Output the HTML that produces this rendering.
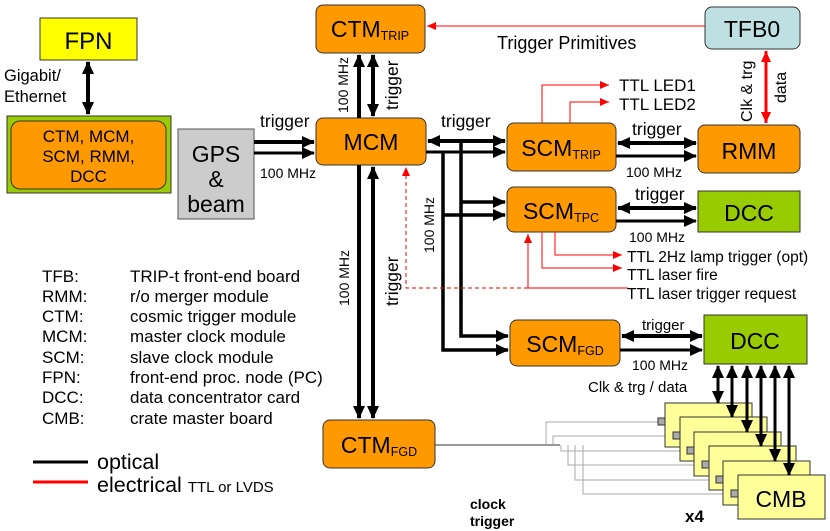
<!DOCTYPE html>
<html><head><meta charset="utf-8"><style>
body{margin:0;background:#fff}
svg{display:block;font-family:"Liberation Sans",Arial,sans-serif}
</style></head><body>
<svg width="830" height="531" viewBox="0 0 830 531" xmlns="http://www.w3.org/2000/svg">
<defs>
<marker id="ab" markerUnits="userSpaceOnUse" markerWidth="14" markerHeight="14" refX="12" refY="7" orient="auto-start-reverse"><path d="M0,1 L13,7 L0,13 z" fill="#000"/></marker>
<marker id="ar" markerUnits="userSpaceOnUse" markerWidth="12" markerHeight="12" refX="11" refY="6" orient="auto-start-reverse"><path d="M0,1 L11,6 L0,11 z" fill="#f00"/></marker>
<marker id="ars" markerUnits="userSpaceOnUse" markerWidth="10" markerHeight="10" refX="9" refY="5" orient="auto-start-reverse"><path d="M0,1 L9,5 L0,9 z" fill="#f00"/></marker>
</defs>

<rect x="40" y="18" width="97" height="42" fill="#ffff00" stroke="#333"/>
<text x="88.5" y="49" font-size="24" text-anchor="middle">FPN</text>
<rect x="7" y="116" width="164" height="77" fill="#99cc00" stroke="#333"/>
<rect x="11" y="121" width="155" height="68" rx="9" fill="#ff9900" stroke="#333"/>
<text x="88.5" y="142" font-size="17" text-anchor="middle">CTM, MCM,</text>
<text x="88.5" y="162" font-size="17" text-anchor="middle">SCM, RMM,</text>
<text x="88.5" y="182" font-size="17" text-anchor="middle">DCC</text>
<line x1="88" y1="62" x2="88" y2="114" stroke="#000" stroke-width="4" marker-start="url(#ab)" marker-end="url(#ab)"/>
<text x="4" y="81" font-size="16.5">Gigabit/</text>
<text x="4" y="102" font-size="16.5">Ethernet</text>
<rect x="178" y="129" width="76" height="90" fill="#cccccc" stroke="#555"/>
<text x="216" y="162" font-size="23" text-anchor="middle">GPS</text>
<text x="216" y="187" font-size="23" text-anchor="middle">&amp;</text>
<text x="216" y="212" font-size="23" text-anchor="middle">beam</text>
<line x1="254" y1="142" x2="314" y2="142" stroke="#000" stroke-width="4" marker-end="url(#ab)"/>
<line x1="254" y1="153" x2="314" y2="153" stroke="#000" stroke-width="3" marker-end="url(#ab)"/>
<text x="260" y="127" font-size="17.5">trigger</text>
<text x="260" y="178" font-size="14">100 MHz</text>

<g fill="#ff9900" stroke="#333">
<rect x="316" y="5" width="109" height="48" rx="7"/>
<rect x="316" y="118" width="110" height="47" rx="7"/>
<rect x="507" y="123" width="109" height="48" rx="7"/>
<rect x="698" y="125" width="102" height="48" rx="7"/>
<rect x="507" y="187" width="109" height="45" rx="7"/>
<rect x="510" y="320" width="110" height="46" rx="7"/>
<rect x="323" y="420" width="112" height="48" rx="7"/>
</g>
<rect x="705" y="7" width="95" height="42" rx="7" fill="#bfe0e3" stroke="#333"/>
<rect x="698" y="191" width="102" height="41" fill="#99cc00" stroke="#333"/>
<rect x="704" y="315" width="103" height="49" fill="#99cc00" stroke="#333"/>
<g font-size="23" text-anchor="middle">
<text x="370" y="37">CTM<tspan font-size="12.5" dy="3">TRIP</tspan></text>
<text x="371" y="150">MCM</text>
<text x="561" y="156">SCM<tspan font-size="12.5" dy="3">TRIP</tspan></text>
<text x="749" y="159">RMM</text>
<text x="561" y="219">SCM<tspan font-size="12.5" dy="3">TPC</tspan></text>
<text x="565" y="352">SCM<tspan font-size="12.5" dy="3">FGD</tspan></text>
<text x="379" y="453">CTM<tspan font-size="12.5" dy="3">FGD</tspan></text>
<text x="752" y="37">TFB0</text>
<text x="749" y="221">DCC</text>
<text x="755" y="349">DCC</text>
</g>

<line x1="359" y1="118" x2="359" y2="55" stroke="#000" stroke-width="4" marker-end="url(#ab)"/>
<line x1="373" y1="116" x2="373" y2="55" stroke="#000" stroke-width="4" marker-start="url(#ab)" marker-end="url(#ab)"/>
<text transform="translate(348,113) rotate(-90)" font-size="14">100 MHz</text>
<text transform="translate(398,110) rotate(-90)" font-size="17.5">trigger</text>
<line x1="359" y1="165" x2="359" y2="418" stroke="#000" stroke-width="4" marker-end="url(#ab)"/>
<line x1="373" y1="167" x2="373" y2="418" stroke="#000" stroke-width="4" marker-start="url(#ab)" marker-end="url(#ab)"/>
<text transform="translate(349,306) rotate(-90)" font-size="14">100 MHz</text>
<text transform="translate(398,306) rotate(-90)" font-size="17.5">trigger</text>

<line x1="428" y1="141" x2="505" y2="141" stroke="#000" stroke-width="4" marker-start="url(#ab)" marker-end="url(#ab)"/>
<line x1="426" y1="152" x2="505" y2="152" stroke="#000" stroke-width="3" marker-end="url(#ab)"/>
<text x="441" y="127" font-size="17.5">trigger</text>
<path d="M461,141 V336 H508" fill="none" stroke="#000" stroke-width="3.5" marker-end="url(#ab)"/>
<path d="M443,152 V350 H508" fill="none" stroke="#000" stroke-width="3.5" marker-end="url(#ab)"/>
<line x1="461" y1="202" x2="505" y2="202" stroke="#000" stroke-width="3.5" marker-end="url(#ab)"/>
<line x1="443" y1="215" x2="505" y2="215" stroke="#000" stroke-width="3.5" marker-end="url(#ab)"/>
<text transform="translate(434,253) rotate(-90)" font-size="14">100 MHz</text>

<line x1="618" y1="143" x2="696" y2="143" stroke="#000" stroke-width="4" marker-start="url(#ab)" marker-end="url(#ab)"/>
<line x1="616" y1="156" x2="696" y2="156" stroke="#000" stroke-width="3" marker-end="url(#ab)"/>
<text x="632" y="135" font-size="17.5">trigger</text>
<text x="626" y="177" font-size="14">100 MHz</text>
<line x1="618" y1="208" x2="696" y2="208" stroke="#000" stroke-width="4" marker-start="url(#ab)" marker-end="url(#ab)"/>
<line x1="616" y1="221" x2="696" y2="221" stroke="#000" stroke-width="3" marker-end="url(#ab)"/>
<text x="635" y="200" font-size="17.5">trigger</text>
<text x="629" y="242" font-size="14">100 MHz</text>
<line x1="622" y1="336" x2="702" y2="336" stroke="#000" stroke-width="4" marker-start="url(#ab)" marker-end="url(#ab)"/>
<line x1="620" y1="350" x2="702" y2="350" stroke="#000" stroke-width="3" marker-end="url(#ab)"/>
<text x="642" y="330" font-size="15">trigger</text>
<text x="632" y="370" font-size="14">100 MHz</text>

<line x1="705" y1="26" x2="427" y2="26" stroke="#f00" stroke-width="1" marker-end="url(#ars)"/>
<text x="497" y="49" font-size="18">Trigger Primitives</text>
<line x1="766" y1="51" x2="766" y2="123" stroke="#f00" stroke-width="3" marker-start="url(#ar)" marker-end="url(#ar)"/>
<text transform="translate(752,122) rotate(-90)" font-size="16">Clk &amp; trg</text>
<text transform="translate(786,103) rotate(-90)" font-size="16">data</text>
<path d="M542,123 V85 H609" fill="none" stroke="#f00" stroke-width="1" marker-end="url(#ars)"/>
<path d="M570,123 V102 H609" fill="none" stroke="#f00" stroke-width="1" marker-end="url(#ars)"/>
<text x="619" y="91" font-size="17">TTL LED1</text>
<text x="619" y="110" font-size="17">TTL LED2</text>
<path d="M555,232 V255 H622" fill="none" stroke="#f00" stroke-width="1" marker-end="url(#ars)"/>
<path d="M542,232 V268 H622" fill="none" stroke="#f00" stroke-width="1" marker-end="url(#ars)"/>
<path d="M628,288 H528 V234" fill="none" stroke="#f00" stroke-width="1" marker-end="url(#ars)"/>
<path d="M528,288 H406 V167" fill="none" stroke="#f00" stroke-width="1" stroke-dasharray="4,3" marker-end="url(#ars)"/>
<text x="627" y="262" font-size="15.5">TTL 2Hz lamp trigger (opt)</text>
<text x="627" y="280" font-size="15.5">TTL laser fire</text>
<text x="627" y="299" font-size="15.5">TTL laser trigger request</text>

<line x1="435" y1="445" x2="560" y2="445" stroke="#333" stroke-width="1"/>
<g fill="none" stroke="#aaa" stroke-width="1">
<path d="M546,445 V422 H658"/>
<path d="M553,445 V436 H672"/>
<path d="M561,445 V451 H687"/>
<path d="M568,445 V465 H701"/>
<path d="M575,445 V480 H716"/>
<path d="M583,445 V494 H730"/>
</g>
<g stroke="#333" stroke-width="1">
<rect x="665" y="403" width="87" height="44" fill="#ffff99"/><rect x="658" y="418" width="7" height="7" fill="#aaa"/>
<rect x="680" y="417" width="87" height="44" fill="#ffff99"/><rect x="673" y="432" width="7" height="7" fill="#aaa"/>
<rect x="694" y="432" width="87" height="44" fill="#ffff99"/><rect x="687" y="447" width="7" height="7" fill="#aaa"/>
<rect x="709" y="446" width="87" height="44" fill="#ffff99"/><rect x="702" y="461" width="7" height="7" fill="#aaa"/>
<rect x="723" y="461" width="87" height="44" fill="#ffff99"/><rect x="716" y="476" width="7" height="7" fill="#aaa"/>
<rect x="738" y="475" width="87" height="44" fill="#ffff99"/><rect x="731" y="490" width="7" height="7" fill="#aaa"/>
</g>
<text x="781" y="507" font-size="23" text-anchor="middle">CMB</text>
<g stroke="#000" stroke-width="3">
<line x1="718" y1="366" x2="718" y2="403" marker-start="url(#ab)" marker-end="url(#ab)"/>
<line x1="732" y1="366" x2="732" y2="417" marker-start="url(#ab)" marker-end="url(#ab)"/>
<line x1="747" y1="366" x2="747" y2="432" marker-start="url(#ab)" marker-end="url(#ab)"/>
<line x1="761" y1="366" x2="761" y2="446" marker-start="url(#ab)" marker-end="url(#ab)"/>
<line x1="775" y1="366" x2="775" y2="461" marker-start="url(#ab)" marker-end="url(#ab)"/>
<line x1="789" y1="366" x2="789" y2="475" marker-start="url(#ab)" marker-end="url(#ab)"/>
</g>
<text x="588" y="392" font-size="15">Clk &amp; trg / data</text>
<text x="685" y="522" font-size="17" font-weight="bold">x4</text>
<text x="470" y="509" font-size="14" font-weight="bold">clock</text>
<text x="470" y="526" font-size="14" font-weight="bold">trigger</text>

<g font-size="17">
<text x="42" y="282">TFB:</text><text x="130" y="282">TRIP-t front-end board</text>
<text x="42" y="302">RMM:</text><text x="130" y="302">r/o merger module</text>
<text x="42" y="322">CTM:</text><text x="130" y="322">cosmic trigger module</text>
<text x="42" y="342">MCM:</text><text x="130" y="342">master clock module</text>
<text x="42" y="363">SCM:</text><text x="130" y="363">slave clock module</text>
<text x="42" y="383">FPN:</text><text x="130" y="383">front-end proc. node (PC)</text>
<text x="42" y="403">DCC:</text><text x="130" y="403">data concentrator card</text>
<text x="42" y="424">CMB:</text><text x="130" y="424">crate master board</text>
</g>
<line x1="33" y1="462" x2="88" y2="462" stroke="#000" stroke-width="3"/>
<line x1="33" y1="482" x2="88" y2="482" stroke="#f00" stroke-width="3"/>
<text x="97" y="469" font-size="21.5">optical</text>
<text x="97" y="492" font-size="21.5">electrical <tspan font-size="15">TTL or LVDS</tspan></text>
</svg>
</body></html>
